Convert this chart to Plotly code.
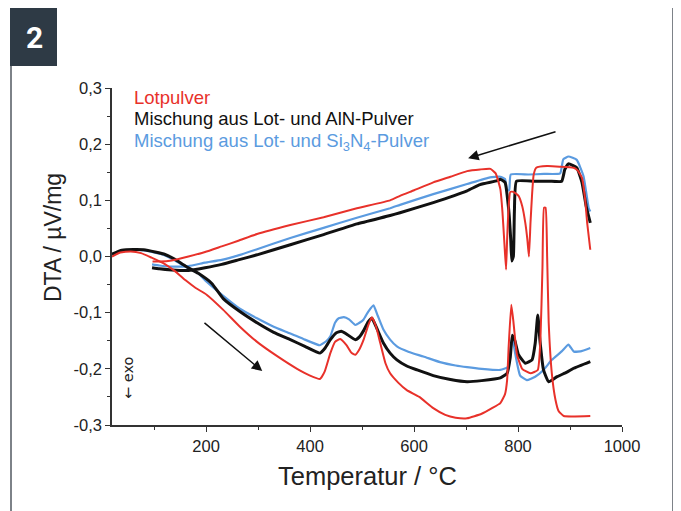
import plotly.graph_objects as go

# ---------------- data ----------------
red_heat_x = [19, 35, 55, 75, 95, 120, 140, 160, 180, 201, 233, 265, 298, 336, 375, 400, 419, 428, 439, 448, 458, 470, 480, 487, 495, 503, 512, 519, 527, 535, 545, 554, 570, 586, 610, 637, 660, 680, 702, 730, 750, 766, 775, 779, 782, 787, 791, 798, 808, 824, 838, 843, 847, 850, 853, 856, 859, 865, 872, 878, 888, 939]
red_heat_y = [0.0, 0.007, 0.009, 0.006, -0.002, -0.013, -0.026, -0.042, -0.056, -0.068, -0.095, -0.125, -0.152, -0.177, -0.200, -0.212, -0.218, -0.205, -0.172, -0.152, -0.147, -0.158, -0.172, -0.175, -0.165, -0.148, -0.122, -0.108, -0.125, -0.154, -0.190, -0.208, -0.225, -0.238, -0.250, -0.270, -0.282, -0.287, -0.288, -0.280, -0.270, -0.261, -0.245, -0.220, -0.160, -0.086, -0.115, -0.175, -0.200, -0.208, -0.202, -0.150, -0.020, 0.087, 0.087, 0.000, -0.118, -0.208, -0.255, -0.275, -0.284, -0.284]

red_cool_x = [939, 933, 929, 923, 915, 907, 880, 856, 835, 830, 827, 824, 821, 818, 814, 808, 801, 791, 785, 782, 779, 777, 774, 770, 766, 757, 747, 727, 702, 670, 637, 600, 573, 554, 490, 426, 362, 298, 262, 230, 198, 166, 134, 110, 97]
red_cool_y = [0.012, 0.060, 0.102, 0.140, 0.153, 0.158, 0.160, 0.161, 0.158, 0.145, 0.110, 0.060, 0.000, 0.030, 0.060, 0.090, 0.108, 0.115, 0.115, 0.090, 0.030, -0.023, 0.020, 0.080, 0.120, 0.148, 0.156, 0.155, 0.152, 0.142, 0.132, 0.118, 0.108, 0.100, 0.086, 0.070, 0.056, 0.040, 0.028, 0.018, 0.008, 0.000, -0.007, -0.009, -0.009]

blk_heat_x = [19, 38, 60, 80, 102, 121, 140, 160, 185, 211, 233, 265, 298, 330, 362, 390, 419, 429, 439, 450, 460, 470, 487, 495, 503, 512, 519, 527, 541, 554, 567, 586, 606, 637, 670, 702, 730, 766, 779, 785, 789, 794, 801, 814, 827, 833, 838, 842, 849, 859, 875, 894, 907, 939]
blk_heat_y = [0.004, 0.011, 0.0125, 0.012, 0.008, 0.0036, -0.005, -0.017, -0.030, -0.048, -0.075, -0.098, -0.118, -0.135, -0.148, -0.160, -0.172, -0.163, -0.148, -0.136, -0.133, -0.138, -0.148, -0.143, -0.132, -0.116, -0.110, -0.125, -0.154, -0.172, -0.184, -0.195, -0.202, -0.212, -0.219, -0.223, -0.221, -0.216, -0.208, -0.180, -0.140, -0.150, -0.175, -0.190, -0.184, -0.155, -0.104, -0.148, -0.202, -0.223, -0.214, -0.206, -0.199, -0.187]

blk_cool_x = [939, 931, 923, 913, 897, 890, 884, 860, 830, 797, 793, 791, 788, 786, 782, 775, 766, 760, 727, 702, 637, 573, 554, 490, 426, 362, 298, 262, 230, 198, 166, 134, 110, 96]
blk_cool_y = [0.060, 0.090, 0.132, 0.158, 0.165, 0.155, 0.134, 0.134, 0.134, 0.134, 0.080, 0.000, -0.008, 0.030, 0.084, 0.132, 0.1375, 0.135, 0.128, 0.117, 0.096, 0.078, 0.073, 0.058, 0.039, 0.021, 0.003, -0.006, -0.014, -0.020, -0.025, -0.024, -0.022, -0.020]

blu_heat_x = [19, 40, 60, 80, 102, 121, 140, 160, 185, 201, 233, 265, 298, 330, 362, 390, 419, 432, 439, 448, 455, 465, 475, 487, 495, 503, 512, 522, 530, 541, 554, 567, 590, 618, 650, 680, 702, 730, 766, 780, 785, 789, 795, 804, 817, 833, 849, 865, 884, 897, 907, 920, 939]
blu_heat_y = [0.004, 0.010, 0.012, 0.011, 0.007, 0.002, -0.007, -0.018, -0.030, -0.045, -0.070, -0.093, -0.110, -0.125, -0.137, -0.148, -0.158, -0.150, -0.142, -0.118, -0.110, -0.108, -0.112, -0.122, -0.118, -0.112, -0.098, -0.087, -0.105, -0.130, -0.148, -0.160, -0.170, -0.178, -0.188, -0.194, -0.197, -0.200, -0.202, -0.197, -0.170, -0.145, -0.175, -0.212, -0.220, -0.214, -0.202, -0.184, -0.169, -0.157, -0.169, -0.169, -0.163]

blu_cool_x = [939, 936, 926, 913, 897, 887, 881, 850, 820, 786, 783, 779, 775, 766, 746, 702, 637, 573, 554, 490, 426, 362, 298, 262, 230, 198, 166, 134, 110, 96]
blu_cool_y = [0.080, 0.086, 0.143, 0.172, 0.178, 0.173, 0.148, 0.147, 0.146, 0.146, 0.118, 0.118, 0.138, 0.142, 0.141, 0.129, 0.111, 0.092, 0.086, 0.069, 0.051, 0.033, 0.013, 0.002, -0.006, -0.011, -0.017, -0.018, -0.016, -0.014]

x_tick_vals = [200, 400, 600, 800, 1000]
x_tick_text = ["200", "400", "600", "800", "1000"]
x_minor_vals = [100, 300, 500, 700, 900]
y_tick_vals = [-0.3, -0.2, -0.1, 0.0, 0.1, 0.2, 0.3]
y_tick_text = ["-0,3", "-0,2", "-0,1", "0,0", "0,1", "0,2", "0,3"]
y_minor_vals = [-0.25, -0.15, -0.05, 0.05, 0.15, 0.25]

legend_labels = ["Lotpulver", "Mischung aus Lot- und AlN-Pulver",
                 "Mischung aus Lot- und Si<sub>3</sub>N<sub>4</sub>-Pulver"]
x_title = "Temperatur / °C"
y_title = "DTA / µV/mg"
exo_label = "← exo"
badge_label = "2"

# arrows (data coords): tail -> head
heat_arrow = dict(tail=(194, -0.116), head=(308, -0.204))
cool_arrow = dict(tail=(875, 0.223), head=(704, 0.175))

# ---------------- styling ----------------
RED = "#e8312a"
BLACK = "#111111"
BLUE = "#5b9be0"
FONT = "Liberation Sans, Arial, sans-serif"

OFF = 8                      # page body margin of the browser
W, H = 681 - OFF, 511 - OFF
ML, MT = 112 - OFF, 88 - OFF
PW, PH = 510, 337
MR, MB = W - ML - PW, H - MT - PH


def px(xs):
    """screen x pixel -> paper coordinate"""
    return (xs - OFF - ML) / PW


def py(ys):
    """screen y pixel -> paper coordinate"""
    return (MT + PH - (ys - OFF)) / PH


fig = go.Figure()
for xs, ys, col, w in [
    (blu_heat_x, blu_heat_y, BLUE, 2.2), (blu_cool_x, blu_cool_y, BLUE, 2.2),
    (blk_heat_x, blk_heat_y, BLACK, 3.0), (blk_cool_x, blk_cool_y, BLACK, 3.0),
    (red_heat_x, red_heat_y, RED, 2.0), (red_cool_x, red_cool_y, RED, 2.0),
]:
    fig.add_trace(go.Scatter(x=xs, y=ys, mode="lines",
                             line=dict(color=col, width=w, shape="spline", smoothing=0.4),
                             showlegend=False, hoverinfo="skip"))

axis_common = dict(showline=True, linecolor="#333333", linewidth=1.5, ticks="outside",
                   ticklen=5, tickwidth=1.3, tickcolor="#333333", showgrid=False,
                   zeroline=False, mirror=False,
                   tickfont=dict(family=FONT, size=16.5, color="#222222"))

fig.update_xaxes(range=[19, 1000], tickmode="array", tickvals=x_tick_vals, ticktext=x_tick_text,
                 minor=dict(tickmode="array", tickvals=x_minor_vals, ticks="outside", ticklen=3,
                            tickcolor="#333333", tickwidth=1.2),
                 **axis_common)
fig.update_yaxes(range=[-0.3, 0.3], tickmode="array", tickvals=y_tick_vals, ticktext=y_tick_text,
                 minor=dict(tickmode="array", tickvals=y_minor_vals, ticks="outside", ticklen=3,
                            tickcolor="#333333", tickwidth=1.2),
                 **axis_common)

annotations = []
annotations.append(dict(text=x_title, xref="paper", yref="paper", x=px(367), y=py(476),
                        xanchor="center", yanchor="middle", showarrow=False,
                        font=dict(family=FONT, size=25.5, color="#222222")))
annotations.append(dict(text=y_title, xref="paper", yref="paper", x=px(53), y=py(238),
                        xanchor="center", yanchor="middle", showarrow=False, textangle=-90,
                        font=dict(family=FONT, size=23, color="#222222")))

for lbl, col, yp in zip(legend_labels, [RED, BLACK, BLUE], [97, 119, 142]):
    annotations.append(dict(text=lbl, xref="paper", yref="paper", x=px(132), y=py(yp),
                            xanchor="left", yanchor="middle", showarrow=False,
                            font=dict(family=FONT, size=18.5, color=col)))

annotations.append(dict(text=exo_label, xref="paper", yref="paper", x=px(128), y=py(378),
                        textangle=-90, showarrow=False, xanchor="center", yanchor="middle",
                        font=dict(family="DejaVu Sans, Liberation Sans", size=14.5, color="#222222")))

for arr in (heat_arrow, cool_arrow):
    annotations.append(dict(x=arr["head"][0], y=arr["head"][1], ax=arr["tail"][0], ay=arr["tail"][1],
                            xref="x", yref="y", axref="x", ayref="y", text="", showarrow=True,
                            arrowhead=2, arrowsize=1.4, arrowwidth=1.5, arrowcolor="#111111"))

annotations.append(dict(text="<b>" + badge_label + "</b>", xref="paper", yref="paper",
                        x=px(34), y=py(37), xanchor="center", yanchor="middle", showarrow=False,
                        font=dict(family="Liberation Sans Narrow, Roboto, sans-serif", size=30,
                                  color="white")))

shapes = [
    dict(type="rect", xref="paper", yref="paper", x0=px(11), x1=px(673), y0=py(520), y1=py(7),
         line=dict(color="#7d8288", width=2), fillcolor="rgba(0,0,0,0)", layer="below"),
    dict(type="rect", xref="paper", yref="paper", x0=px(10), x1=px(57), y0=py(66), y1=py(6),
         line=dict(width=0), fillcolor="#2e3a45", layer="above"),
]

fig.update_layout(width=W, height=H, margin=dict(l=ML, r=MR, t=MT, b=MB),
                  paper_bgcolor="white", plot_bgcolor="white",
                  annotations=annotations, shapes=shapes, showlegend=False,
                  font=dict(family=FONT))

fig.write_html("out.html")
